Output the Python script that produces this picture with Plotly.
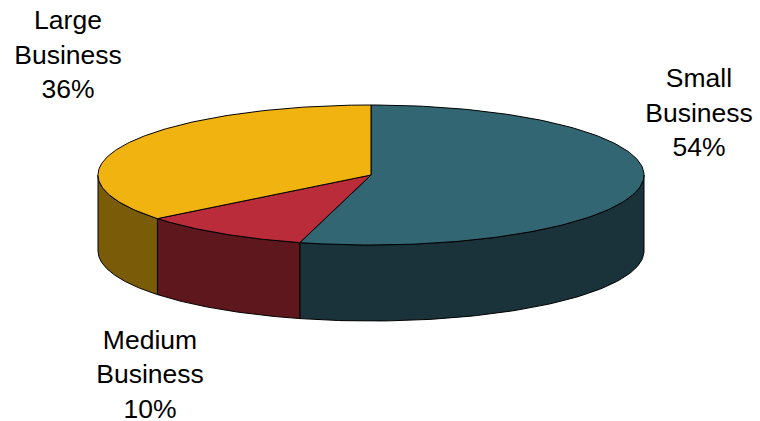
import numpy as np
import plotly.graph_objects as go

categories = ["Small<br>Business", "Medium<br>Business", "Large<br>Business"]
shares = [54.2, 10.1, 35.7]
top_colors = ["#336673", "#BA2C39", "#F0B310"]
side_colors = ["#1A333A", "#5D171D", "#7A5C08"]
label_x = [699, 150, 68]
label_y = [115, 376.5, 57]

W, H = 760, 421
CX, CY, RX, RY, DEPTH = 371.0, 175.0, 273.0, 70.0, 76.0


def arc(a0, a1, dy=0.0, n=90):
    t = np.radians(np.linspace(a0, a1, n))
    return CX + RX * np.sin(t), CY - RY * np.cos(t) + dy


fig = go.Figure()
edges = np.concatenate([[0], np.cumsum(shares)]) * 3.6
line = dict(color="#000000", width=1)

# side walls (only the front half of the disc, 90..270 degrees)
for a0, a1, col in zip(edges[:-1], edges[1:], side_colors):
    s0, s1 = max(a0, 90), min(a1, 270)
    if s1 <= s0:
        continue
    xt, yt = arc(s0, s1)
    xb, yb = arc(s1, s0, DEPTH)
    fig.add_trace(go.Scatter(
        x=np.r_[xt, xb, xt[0]], y=np.r_[yt, yb, yt[0]], mode="lines",
        fill="toself", fillcolor=col, line=line, hoverinfo="skip"))

# top faces
for a0, a1, col in zip(edges[:-1], edges[1:], top_colors):
    xt, yt = arc(a0, a1, n=160)
    fig.add_trace(go.Scatter(
        x=np.r_[CX, xt, CX], y=np.r_[CY, yt, CY], mode="lines",
        fill="toself", fillcolor=col, line=line, hoverinfo="skip"))

fig.add_trace(go.Scatter(
    x=label_x, y=label_y, mode="text",
    text=[f"{c}<br>{round(s)}%" for c, s in zip(categories, shares)],
    textposition="middle center",
    textfont=dict(family="Liberation Sans, Arial, sans-serif", size=26.5, color="#000000"),
    cliponaxis=False,
    hoverinfo="skip"))

fig.update_layout(
    width=W, height=H, showlegend=False,
    margin=dict(l=0, r=0, t=0, b=0),
    paper_bgcolor="#FFFFFF", plot_bgcolor="#FFFFFF",
    xaxis=dict(range=[0, W], visible=False, fixedrange=True),
    yaxis=dict(range=[H, 0], visible=False, fixedrange=True),
)
fig.write_html("out.html", config={"displayModeBar": False},
               post_script="document.body.style.margin='0';document.body.style.overflow='hidden';")
